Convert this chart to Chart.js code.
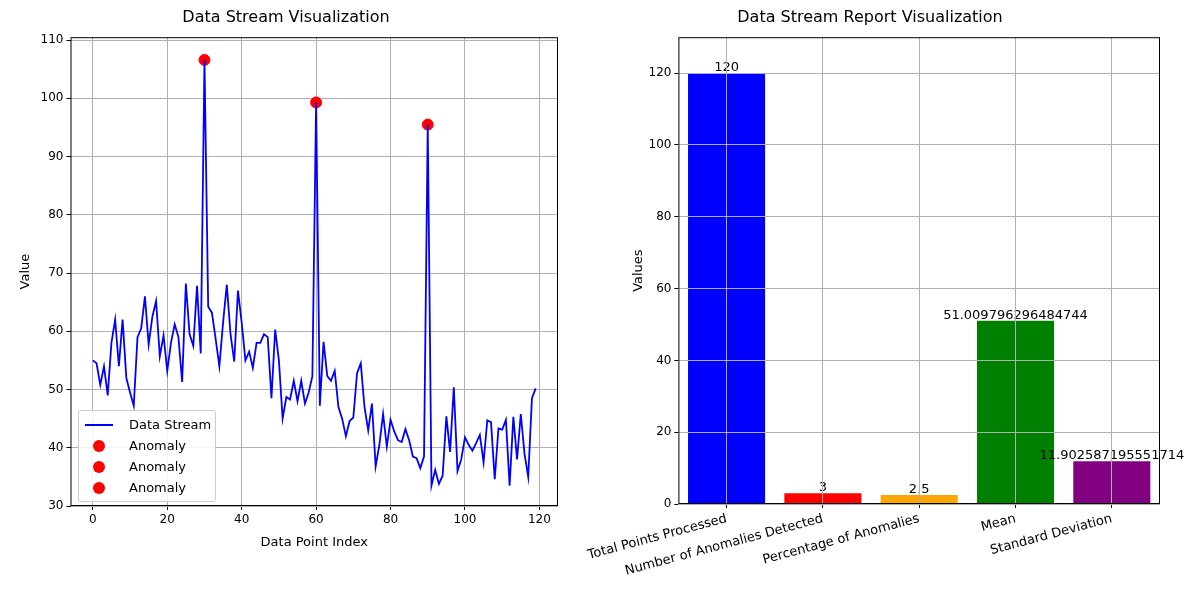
<!DOCTYPE html>
<html>
<head>
<meta charset="utf-8">
<script src="https://cdn.jsdelivr.net/npm/chart.js@4"></script>
<style>
body{margin:0;background:#fff;font-family:"DejaVu Sans",sans-serif;}
#wrap{position:relative;width:1200px;height:600px;overflow:hidden;}
.c{position:absolute;}
#legend{position:absolute;left:78px;top:410px;width:136px;border:1px solid #ccc;border-radius:3px;background:rgba(255,255,255,0.85);font-size:13px;padding:3px 0;}
#legend div{height:21px;line-height:21px;position:relative;padding-left:50px;}
#legend .ln{position:absolute;left:6px;top:10px;width:28px;height:2px;background:#0000ff;}
#legend .dt{position:absolute;left:14px;top:5px;width:12px;height:12px;border-radius:50%;background:#ff0000;}
</style>
</head>
<body>
<div id="wrap">
<div class="c" style="left:0;top:0;width:570px;height:600px"><canvas id="streamChart"></canvas></div>
<div class="c" style="left:580px;top:0;width:620px;height:600px"><canvas id="reportChart"></canvas></div>
<div id="legend">
<div><span class="ln"></span>Data Stream</div>
<div><span class="dt"></span>Anomaly</div>
<div><span class="dt"></span>Anomaly</div>
<div><span class="dt"></span>Anomaly</div>
</div>
</div>
<script>
const streamValues = [
55,54.5,50.8,54,49,58,62,54,62,52,
49.5,47.2,59,60.5,66,57.7,62.5,65.2,55.7,59.3,
53.2,58,61.2,59,51.3,68.2,59.5,57.5,67.8,56.2,
106.6,64.2,63.2,58.7,54,61.5,68,59.5,54.8,67,
61.5,55,56.5,53.7,58,58,59.5,59,48.5,60.3,
55,45,48.7,48.3,51.5,48,51.5,47.6,49.5,52.3,
99.3,47.2,58.2,52.3,51.5,53.2,47,45,42,44.6,
45.2,52.8,54.5,47,43,47.6,36.8,40.5,45.8,40.2,
44.8,42.8,41.3,41,43.2,41.3,38.5,38.2,36.5,38.5,
95.5,33.5,36.2,33.8,35.2,45.4,39.3,50.4,36,38,
41.8,40.5,39.5,40.8,42.2,37.5,44.7,44.4,34.6,43.3,
43.1,44.8,33.5,45.3,38,45.8,39,35,48.5,50.2
];
const anomalyIdx = [30, 60, 90];

const reportLabels = ["Total Points Processed","Number of Anomalies Detected","Percentage of Anomalies","Mean","Standard Deviation"];
const reportValues = [120, 3, 2.5, 51.009796296484744, 11.902587195551714];
const reportText = ["120","3","2.5","51.009796296484744","11.902587195551714"];
const reportColors = ["#0000ff","#ff0000","#ffa500","#008000","#800080"];

Chart.defaults.font.family = "DejaVu Sans";
Chart.defaults.font.size = 12;
Chart.defaults.color = "#000";
Chart.defaults.animation = false;

const gridStyle = {color:"#b0b0b0", lineWidth:1, drawTicks:true, tickLength:4, tickColor:"#000"};

// full black frame round the plot area, like matplotlib spines
const frame = {
id:"frame",
afterDraw(chart){
const a = chart.chartArea, ctx = chart.ctx;
ctx.save();
ctx.strokeStyle = "#000";
ctx.lineWidth = 1;
ctx.strokeRect(a.left+0.5, a.top+0.5, a.right-a.left-1, a.bottom-a.top-1);
ctx.restore();
}
};

const anomalySets = anomalyIdx.map(i=>({
type:"scatter",
label:"Anomaly",
data:[{x:i,y:streamValues[i]}],
backgroundColor:"#ff0000",
borderColor:"#ff0000",
pointRadius:5.5
}));

new Chart(document.getElementById("streamChart"),{
type:"scatter",
data:{
datasets:[{
type:"line",
label:"Data Stream",
data:streamValues.map((v,i)=>({x:i,y:v})),
borderColor:"#0000ff",
borderWidth:1.8,
pointRadius:0,
tension:0
}, ...anomalySets]
},
options:{
responsive:true,
maintainAspectRatio:false,
layout:{padding:{top:2,bottom:46,right:12,left:14}},
plugins:{
legend:{display:false},
tooltip:{enabled:false},
title:{display:true,text:"Data Stream Visualization",font:{size:16,weight:"normal"},padding:{top:6,bottom:10}}
},
scales:{
x:{type:"linear",min:-6,max:125,
grid:gridStyle,border:{display:false},
afterBuildTicks:s=>{s.ticks=[0,20,40,60,80,100,120].map(v=>({value:v}));},
title:{display:true,text:"Data Point Index",font:{size:13}}},
y:{min:30,max:110.5,
grid:gridStyle,border:{display:false},
afterBuildTicks:s=>{s.ticks=[30,40,50,60,70,80,90,100,110].map(v=>({value:v}));},
title:{display:true,text:"Value",font:{size:13}}}
}
},
plugins:[frame]
});

const valueLabels = {
id:"valueLabels",
afterDatasetsDraw(chart){
const ctx = chart.ctx;
const meta = chart.getDatasetMeta(0);
ctx.save();
ctx.font = "13px DejaVu Sans";
ctx.fillStyle = "#000";
ctx.textAlign = "center";
ctx.textBaseline = "bottom";
meta.data.forEach((bar,i)=>{
ctx.fillText(reportText[i], bar.x, bar.y+1);
});
ctx.restore();
}
};

new Chart(document.getElementById("reportChart"),{
type:"bar",
data:{
labels:reportLabels,
datasets:[{
data:reportValues,
backgroundColor:reportColors,
barPercentage:0.8,
categoryPercentage:1
}]
},
options:{
responsive:true,
maintainAspectRatio:false,
layout:{padding:{top:2,right:40,left:0,bottom:18}},
plugins:{
legend:{display:false},
tooltip:{enabled:false},
title:{display:true,text:"Data Stream Report Visualization",font:{size:16,weight:"normal"},padding:{top:6,bottom:10}}
},
scales:{
x:{grid:{...gridStyle,offset:false,z:1},border:{display:false},
ticks:{minRotation:15,maxRotation:15,font:{size:13}}},
y:{min:0,max:130,grid:{...gridStyle,z:1},border:{display:false},
afterFit:s=>{s.width=52;},
afterBuildTicks:s=>{s.ticks=[0,20,40,60,80,100,120].map(v=>({value:v}));},
title:{display:true,text:"Values",font:{size:13}}}
}
},
plugins:[valueLabels, frame]
});
</script>
</body>
</html>
